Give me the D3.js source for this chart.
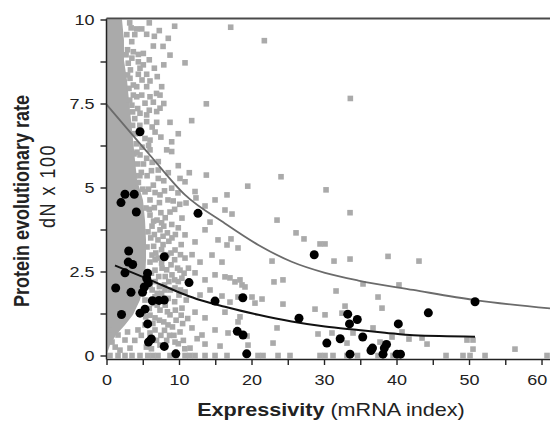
<!DOCTYPE html>
<html>

<head>
  <meta charset="utf-8">
  <title>Protein evolutionary rate vs expressivity</title>
  <script src="https://d3js.org/d3.v7.min.js"></script>
  <style>
    body {
      margin: 0;
      background-color: #fff;
    }

    .chart text {
      font-family: "Liberation Sans", Arial, Helvetica, sans-serif;
      fill: #222;
    }
  </style>
</head>

<body>
  <div class="chart"></div>
  <script>
    // axis ticks
    const xTickValues = [0, 5, 10, 15, 20, 25, 30, 35, 40, 45, 50, 55, 60];
    const xTickLabels = ["0", "", "10", "", "20", "", "30", "", "40", "", "50", "", "60"];
    const yTickValues = [0, 1.25, 2.5, 3.75, 5, 6.25, 7.5, 8.75, 10];
    const yTickLabels = ["0", "", "2.5", "", "5", "", "7.5", "", "10"];

    // solid part of the gene cloud (right edge for each dN level)
    const denseY = [10, 9.38, 8.79, 8.19, 7.6, 7.01, 6.41, 5.82, 5.22, 4.93, 4.63, 4.03, 3.44, 2.84, 2.25, 1.65, 1.21, 0.91, 0.61, 0.31, 0];
    const denseX = [2.14, 2.41, 2.41, 2.83, 3.1, 3.38, 3.66, 3.93, 4.21, 4.62, 5.03, 5.31, 5.45, 5.45, 5.31, 4.62, 3.66, 2.55, 1.31, 0.48, 0];

    // all genes (grey squares) outside the solid part: [expressivity, dN x 100]
    const grayPoints = [
      [17.13, 9.77], [21.77, 9.37], [13.77, 7.49], [33.63, 7.65], [13.77, 5.37], [24.07, 5.32], [19.48, 5.04], [30.28, 4.93], [33.59, 4.25],
      [4.17, 9.72], [4.86, 9.72], [5.54, 9.56], [7.28, 9.67], [8.52, 9.44], [6.46, 9.21], [3.48, 9.34], [3.7, 9.04], [4.39, 8.96], [5.08, 8.99],
      [8.76, 8.94], [10.83, 8.71], [4.39, 8.74], [5.08, 8.65], [4.62, 8.55], [3.0, 8.7], [4.39, 8.37], [5.54, 8.37], [3.24, 8.25], [3.7, 8.05],
      [6.0, 8.17], [4.17, 8.0], [5.54, 8.0], [7.61, 8.0], [4.86, 7.75], [6.0, 7.7], [7.38, 7.75], [3.7, 7.75], [4.17, 7.7], [5.31, 7.51],
      [6.46, 7.54], [7.38, 7.36], [6.92, 7.26], [4.62, 7.21], [5.54, 7.16], [8.76, 6.94], [11.75, 6.99], [6.92, 6.94], [5.54, 6.96], [9.9, 6.6],
      [6.0, 6.41], [5.31, 6.46], [8.99, 6.36], [8.3, 6.12], [8.99, 6.07], [6.0, 6.12], [4.62, 5.97], [5.54, 5.87], [9.9, 5.65], [7.14, 5.77],
      [7.14, 5.52], [8.52, 5.44], [11.42, 5.44], [10.14, 5.27], [10.83, 5.17], [7.14, 5.27], [6.46, 5.07], [8.99, 4.98], [12.21, 4.88],
      [3.2, 9.9], [3.9, 9.55], [2.9, 9.1], [5.9, 9.9], [3.3, 8.5], [5.9, 8.8], [6.6, 8.55], [3.5, 7.45], [4.3, 7.35], [3.9, 7.05],
      [4.6, 6.85], [3.6, 6.6], [4.1, 6.3], [6.7, 6.65], [7.5, 6.5], [3.8, 6.0], [4.3, 5.7], [6.3, 5.75], [4.8, 5.45], [5.6, 5.35],
      [6.2, 5.5], [4.4, 5.15], [7.9, 5.2], [5.0, 4.95], [6.6, 4.4], [7.3, 4.55], [8.1, 4.1], [7.6, 3.95], [6.6, 3.6], [8.4, 3.65],
      [7.8, 3.3], [6.5, 3.25], [8.9, 3.05], [7.6, 2.75], [8.3, 2.55], [6.2, 2.45], [6.7, 2.2], [7.3, 2.05], [8.6, 2.2], [6.3, 1.95],
      [7.0, 1.85], [9.9, 2.2], [11.3, 2.6], [11.8, 3.0], [5.9, 1.4], [6.5, 1.55], [8.1, 1.5], [9.4, 1.6], [11.0, 1.65], [5.4, 1.15],
      [7.9, 1.0], [9.6, 1.05], [11.2, 1.1], [4.8, 0.6], [5.5, 0.25], [6.9, 0.45], [8.7, 0.6], [10.6, 0.45], [12.5, 0.5], [3.9, 0.45],
      [2.9, 0.7], [1.2, 0.25],
      [2.8, 9.55], [3.4, 9.75], [2.7, 8.95], [3.5, 8.85], [2.9, 8.35], [3.1, 7.95], [3.2, 7.6], [3.6, 7.25], [3.6, 6.85], [4.0, 6.6],
      [3.9, 5.35], [4.2, 6.05], [4.6, 5.35], [4.9, 6.2], [5.1, 5.7], [5.8, 6.25], [6.3, 6.8], [6.9, 7.8], [7.9, 7.5], [7.0, 8.3],
      [7.9, 8.65], [5.9, 7.3], [4.9, 8.2], [6.6, 9.5], [9.4, 9.8], [7.8, 9.2],
      [5.8, 4.95], [6.7, 4.85], [8.0, 4.9], [9.2, 4.6], [5.9, 4.35], [7.5, 4.25], [9.4, 4.35], [10.1, 4.5], [6.5, 4.0], [7.9, 3.85],
      [9.0, 3.9], [9.9, 3.8], [6.1, 3.5], [7.8, 3.55], [8.6, 3.4], [9.5, 3.6], [10.3, 3.3], [6.8, 3.05], [7.6, 3.15], [8.4, 3.0],
      [9.4, 2.85], [10.2, 3.0], [6.7, 2.85], [8.9, 2.7], [9.8, 2.6], [10.7, 2.45], [7.2, 2.35], [8.1, 2.35], [9.4, 2.25], [10.4, 2.3],
      [6.0, 2.05], [8.0, 2.1], [8.8, 1.95], [10.2, 1.95], [6.7, 1.75], [7.6, 1.85], [8.5, 1.7], [10.0, 1.8], [6.0, 1.2], [7.0, 1.5],
      [8.4, 1.3], [9.5, 1.35], [10.3, 1.2], [6.4, 0.95], [7.3, 1.05], [8.0, 0.75], [9.1, 0.85], [10.5, 0.95], [7.5, 0.6], [9.3, 0.6],
      [9.9, 0.35], [8.3, 0.45], [6.2, 0.2], [10.8, 0.2],
      [5.31, 4.87], [6.0, 4.63], [5.45, 4.39], [6.28, 3.85], [7.1, 3.44], [5.59, 3.23], [6.0, 2.78], [7.1, 2.9],
      [7.38, 4.78], [8.48, 4.63], [9.86, 4.84], [10.97, 4.54], [12.34, 4.69], [13.59, 4.45], [14.97, 4.63], [16.62, 4.78],
      [6.0, 4.18], [6.97, 4.03], [8.76, 4.27], [10.41, 4.09], [14.28, 3.97], [16.34, 4.33], [17.31, 4.21], [23.52, 4.03],
      [5.72, 3.68], [7.38, 3.74], [9.03, 3.5], [10.83, 3.59], [12.21, 3.38], [13.59, 3.74], [15.38, 3.44], [17.17, 3.47], [16.62, 3.29],
      [18.14, 3.2], [26.14, 3.65], [27.24, 3.47], [29.45, 3.32], [30.14, 3.32],
      [6.28, 2.99], [9.45, 3.14], [10.83, 2.9], [12.9, 2.78], [14.55, 2.99], [15.93, 2.78], [22.83, 2.81], [31.38, 2.81], [33.59, 2.87],
      [38.83, 2.95], [43.1, 2.81],
      [6.69, 2.54], [7.66, 2.6], [9.03, 2.4], [10.14, 2.54], [12.21, 2.46], [13.59, 2.25], [14.97, 2.4], [16.34, 2.34], [17.03, 2.31],
      [17.72, 2.19], [18.41, 2.25], [18.69, 2.1], [19.1, 2.04], [23.1, 2.19], [24.34, 2.25], [35.38, 2.13], [40.34, 2.1],
      [8.07, 1.95], [9.45, 2.01], [10.83, 1.89], [12.9, 1.8], [14.28, 1.95], [15.93, 1.77], [17.03, 1.59], [18.14, 1.74], [20.07, 1.74],
      [21.45, 1.68], [20.48, 1.56], [24.34, 1.53], [31.66, 1.92], [37.45, 1.74],
      [5.31, 1.65], [6.69, 1.12], [5.31, 0.91], [6.0, 0.67],
      [7.38, 1.35], [8.76, 1.21], [10.41, 1.41], [12.21, 1.29], [13.59, 1.12], [16.34, 1.29], [18.41, 1.15], [18.14, 1.0], [28.76, 1.38],
      [30.14, 1.21], [32.9, 1.47], [38.0, 1.41], [32.48, 1.26],
      [6.69, 0.76], [8.48, 0.91], [10.14, 0.7], [11.79, 0.82], [13.17, 0.61], [14.97, 0.76], [16.76, 0.67], [19.38, 0.58], [23.52, 0.82],
      [29.17, 0.64], [31.1, 0.67], [34.0, 0.67], [36.76, 0.82], [39.38, 0.55], [40.76, 0.7], [41.72, 0.49], [43.52, 0.52], [49.72, 0.46],
      [50.55, 0.46],
      [7.38, 0.31], [9.45, 0.4], [11.52, 0.22], [13.59, 0.34], [15.66, 0.28], [19.52, 0.31], [22.97, 0.37], [33.17, 0.37], [37.72, 0.4],
      [38.18, 0.36], [44.21, 0.34], [50.55, 0.19], [56.34, 0.19],
      [0.48, 0.76], [1.59, 0.61], [0.76, 0.4], [2.55, 0.46], [3.24, 0.22], [4.34, 0.76], [1.86, 0.16],
      [0.48, 0], [1.59, 0], [2.55, 0], [3.52, 0], [4.62, 0], [5.7, 0], [6.4, 0], [7.1, 0], [8.76, 0], [9.6, 0], [10.83, 0], [11.5, 0],
      [12.21, 0], [13.59, 0], [14.97, 0], [16.62, 0], [20.9, 0], [21.59, 0], [23.66, 0], [25.31, 0], [29.45, 0], [30.14, 0], [31.24, 0],
      [33.17, 0], [34.62, 0], [37.45, 0], [39.52, 0], [46.83, 0], [49.17, 0], [50.14, 0], [52.21, 0], [60.76, 0]
    ];

    // highlighted genes (black dots)
    const blackPoints = [
      [4.62, 6.66], [2.55, 4.8], [3.83, 4.8], [2.0, 4.55], [4.11, 4.27], [12.62, 4.23], [28.65, 3.0], [3.06, 3.11], [7.97, 2.94],
      [3.0, 2.78], [3.61, 2.71], [2.55, 2.46], [5.66, 2.45], [5.55, 2.29], [5.77, 2.16], [11.38, 2.17], [1.27, 2.01], [3.38, 1.88],
      [4.97, 1.88], [5.21, 2.04], [6.32, 1.63], [7.24, 1.64], [7.97, 1.65], [14.97, 1.62], [18.8, 1.72], [2.07, 1.22], [4.62, 1.26],
      [5.31, 1.38], [5.68, 0.94], [6.18, 0.49], [5.79, 0.4], [7.97, 0.27], [9.56, 0.05], [18.04, 0.72], [18.83, 0.61], [19.34, 0.05],
      [26.55, 1.11], [30.39, 0.37], [32.23, 0.5], [33.27, 1.23], [34.59, 1.07], [33.52, 0.94], [33.59, 0.04], [35.34, 0.55],
      [36.48, 0.15], [36.69, 0.22], [38.62, 0.33], [38.32, 0.22], [38.14, 0.04], [40.25, 0.94], [40.07, 0.04], [40.55, 0.04],
      [44.39, 1.27], [50.83, 1.6]
    ];

    // fitted curves
    const upperX = [0, 6.0, 10.83, 16.34, 20.94, 25.54, 30.14, 34.73, 42.32, 50.83, 61.17];
    const upperY = [7.47, 5.96, 4.78, 3.93, 3.29, 2.79, 2.46, 2.23, 1.95, 1.65, 1.4];
    const lowerX = [1.17, 6.0, 10.59, 12.9, 16.34, 20.94, 25.54, 30.14, 34.73, 38.41, 42.32, 50.83];
    const lowerY = [2.68, 2.25, 1.83, 1.65, 1.45, 1.21, 1.01, 0.86, 0.76, 0.68, 0.6, 0.56];

    const width = 550;
    const height = 430;
    const gray = "#aaaaaa";
    const stretch = "scale(1.2,1)";
    const sq = 5.6;

    const x = d3.scaleLinear().domain([0, 61.17]).range([106.5, 550]);
    const y = d3.scaleLinear().domain([0, 10]).range([355.5, 19.5]);

    const svg = d3
      .select(".chart")
      .append("svg")
      .attr("width", width)
      .attr("height", height);

    // dense cloud of low expressivity genes
    const cloud = d3
      .area()
      .y((d, i) => y(denseY[i]))
      .x0(x(0))
      .x1((d, i) => x(denseX[i]));

    svg.append("path").datum(denseY).attr("d", cloud).attr("fill", gray);

    svg
      .append("g")
      .selectAll("rect")
      .data(grayPoints)
      .join("rect")
      .attr("x", (d) => x(d[0]) - sq / 2)
      .attr("y", (d) => y(d[1]) - sq / 2)
      .attr("width", sq)
      .attr("height", sq)
      .attr("fill", gray);

    const line = d3
      .line()
      .x((d) => x(d[0]))
      .y((d) => y(d[1]))
      .curve(d3.curveMonotoneX);

    svg
      .append("path")
      .datum(d3.zip(upperX, upperY))
      .attr("d", line)
      .attr("fill", "none")
      .attr("stroke", "#6b6b6b")
      .attr("stroke-width", 1.8);

    svg
      .append("path")
      .datum(d3.zip(lowerX, lowerY))
      .attr("d", line)
      .attr("fill", "none")
      .attr("stroke", "#111")
      .attr("stroke-width", 2);

    svg
      .append("g")
      .selectAll("circle")
      .data(blackPoints)
      .join("circle")
      .attr("cx", (d) => x(d[0]))
      .attr("cy", (d) => y(d[1]))
      .attr("r", 4.5)
      .attr("fill", "#000");

    // axes
    const xAxis = d3
      .axisBottom(x)
      .tickValues(xTickValues)
      .tickSize(6)
      .tickSizeOuter(0)
      .tickFormat((d, i) => xTickLabels[i]);

    const gx = svg.append("g").attr("transform", "translate(0,359)").call(xAxis);
    gx.select(".domain").attr("stroke", "#222").attr("stroke-width", 1.5);
    gx.selectAll(".tick line").attr("stroke", "#222").attr("stroke-width", 1.4);
    gx.selectAll("text")
      .attr("y", 15)
      .attr("font-size", 15)
      .attr("transform", stretch);
    // last label is pulled in a little so it stays inside the frame
    gx.selectAll("text").filter((d) => d === 60).attr("x", -4);

    const yAxis = d3
      .axisLeft(y)
      .tickValues(yTickValues)
      .tickSize(6)
      .tickSizeOuter(0)
      .tickFormat((d, i) => yTickLabels[i]);

    const gy = svg.append("g").attr("transform", "translate(106.5,0)").call(yAxis);
    gy.select(".domain").remove();
    gy.selectAll(".tick line").attr("stroke", "#222").attr("stroke-width", 1.4);
    gy.selectAll("text")
      .attr("x", -10)
      .attr("font-size", 15)
      .attr("transform", stretch);

    gy.append("line")
      .attr("y1", y(10) - 1)
      .attr("y2", 359.5)
      .attr("stroke", "#222")
      .attr("stroke-width", 1.5);

    // top frame line
    svg
      .append("line")
      .attr("x1", x(0))
      .attr("x2", width)
      .attr("y1", 18.5)
      .attr("y2", 18.5)
      .attr("stroke", "#4a4a4a")
      .attr("stroke-width", 2);

    // axis titles
    svg
      .append("text")
      .attr("transform", "translate(29,201) " + stretch + " rotate(-90)")
      .attr("text-anchor", "middle")
      .attr("font-weight", "bold")
      .attr("font-size", 18)
      .text("Protein evolutionary rate");

    svg
      .append("text")
      .attr("transform", "translate(55,186) " + stretch + " rotate(-90)")
      .attr("text-anchor", "middle")
      .attr("font-size", 18)
      .attr("letter-spacing", 1.5)
      .text("dN x 100");

    const xTitle = svg
      .append("text")
      .attr("transform", "translate(331,416) " + stretch)
      .attr("text-anchor", "middle")
      .attr("font-size", 18);

    xTitle.append("tspan").attr("font-weight", "bold").text("Expressivity");
    xTitle.append("tspan").text(" (mRNA index)");
  </script>
</body>

</html>
